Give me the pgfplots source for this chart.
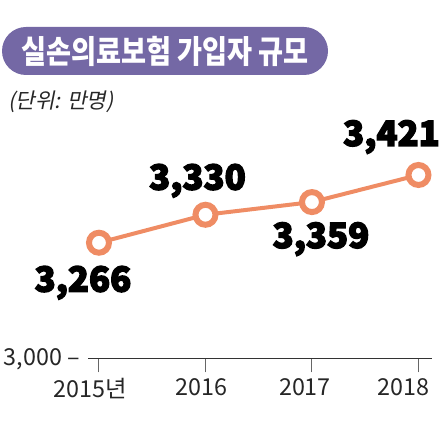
\documentclass[border=0pt]{standalone}
\usepackage{fontspec}
\setmainfont{Noto Sans CJK KR}
\setsansfont{Noto Sans CJK KR}
\newfontfamily\heavy[FakeBold=4]{Noto Sans CJK KR Black}
\newfontfamily\slfont[FakeSlant=0.2]{Noto Sans CJK KR}
\newfontfamily\tickfont{Noto Sans CJK KR}
\usepackage{pgfplots}
\pgfplotsset{compat=1.18}
\definecolor{titlepurple}{RGB}{116,104,165}
\definecolor{lineorange}{RGB}{239,140,100}
\newcommand\ylab{\mbox{\tickfont 3,000\hspace{4pt}–}}
\newcommand\xl[2]{\mbox{\tickfont\makebox[0pt]{\hspace*{-#1}#2}}}
\begin{document}
\begin{tikzpicture}
\path[use as bounding box] (0,0) rectangle (330.75pt,320.25pt);
\fill[titlepurple, rounded corners=18pt] (1.5pt,264pt) rectangle (246pt,300pt);
\node[white, font=\fontsize{24}{24}\selectfont\bfseries] at (123.75pt,282pt) {\scalebox{0.85}[1]{실손의료보험 가입자 규모}};
\node[anchor=west, inner sep=0pt, font=\slfont\fontsize{16}{16}\selectfont, text=black!85] at (6pt,243.75pt) {(단위: 만명)};
\begin{axis}[
  at={(66pt,51pt)}, anchor=south west,
  x=79.875pt, y=0.3278pt,
  xmin=2014.897, xmax=2018.127, ymin=3000, ymax=3460,
  axis x line*=bottom, axis y line*=left,
  y axis line style={draw=none},
  x axis line style={draw=black!80, line width=0.75pt},
  xtick={2015,2016,2017,2018},
  xticklabels={\xl{13.5pt}{2015년},\xl{6pt}{2016},\xl{10.5pt}{2017},\xl{22.5pt}{2018}},
  ytick={3000}, yticklabels={\ylab},
  tick align=outside,
  x tick style={draw=black!60, line width=0.75pt},
  major tick length=10pt,
  y tick style={draw=none},
  tick label style={font=\tickfont\fontsize{17.5}{17.5}\selectfont, text=black!85},
  xticklabel style={yshift=-1pt},
  yticklabel style={xshift=7.5pt},
  /pgf/number format/assume math mode=true,
  clip=false,
]
\addplot[lineorange, line width=3pt, mark=*, mark size=7.5pt, mark options={draw=lineorange, fill=white, line width=4.5pt}] coordinates {(2015,3266) (2016,3330) (2017,3359) (2018,3421)};
\node[font=\heavy\fontsize{26}{26}\selectfont] at (axis cs:2015,3266) [xshift=-12pt, yshift=-30pt] {3,266};
\node[font=\heavy\fontsize{26}{26}\selectfont] at (axis cs:2016,3330) [xshift=-6pt, yshift=25.5pt] {3,330};
\node[font=\heavy\fontsize{26}{26}\selectfont] at (axis cs:2017,3359) [xshift=6.75pt, yshift=-27.75pt] {3,359};
\node[font=\heavy\fontsize{26}{26}\selectfont] at (axis cs:2018,3421) [xshift=-20.25pt, yshift=28.5pt] {3,421};
\end{axis}
\end{tikzpicture}
\end{document}
